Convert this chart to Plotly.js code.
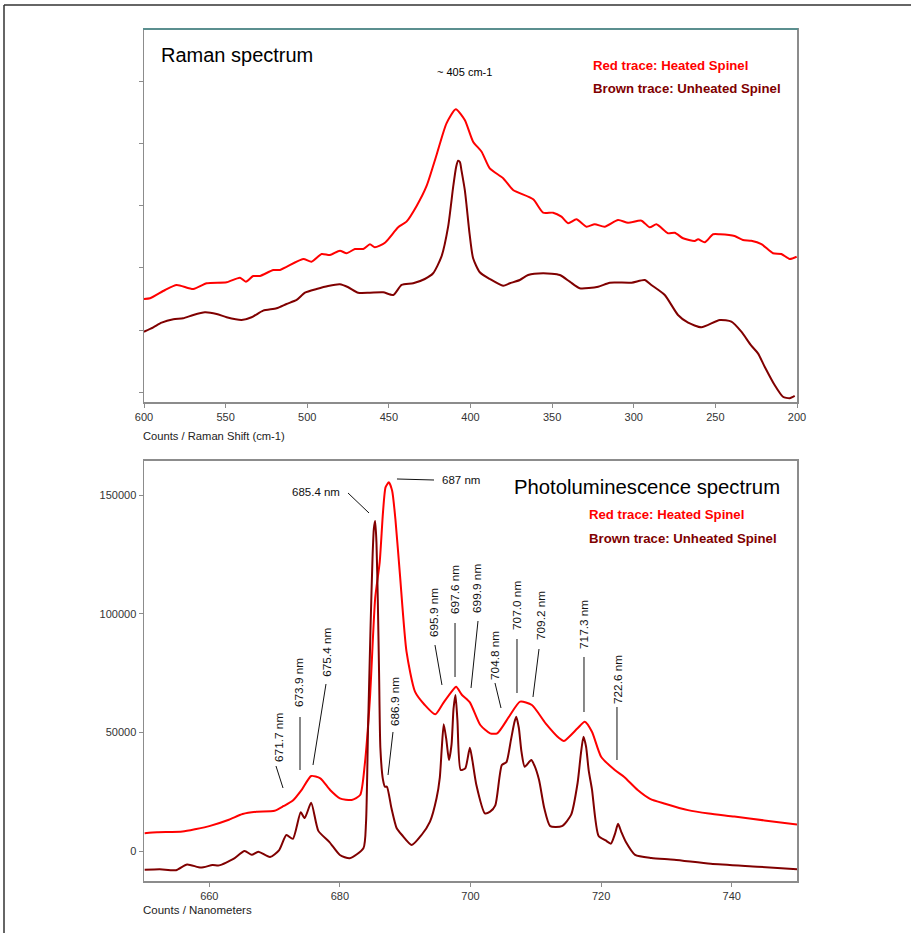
<!DOCTYPE html>
<html>
<head>
<meta charset="utf-8">
<script src="https://cdn.plot.ly/plotly-3.0.1.min.js"></script>
<style>
html,body{margin:0;padding:0;background:#fff;}
#chart{width:911px;height:933px;}
</style>
</head>
<body>
<div id="chart"></div>
<script>
// ---------- Raman spectrum data ----------
const ramanShiftHeated = [600,596.3,587.1,580,569.8,561.6,549.4,541.2,537.6,533.1,529,520.8,516.7,502.5,497.4,491.2,486.1,480,475.9,470.8,465.7,461.6,458.6,452.4,444.3,439.2,433,426.9,420.8,414.7,409,403.5,398.4,393.2,388.2,380,373.9,361.6,355.5,349.4,344.3,340.2,335.1,329,323.9,317.8,309.6,303.5,295.3,290.2,286.1,279,274.9,269.8,262.7,260.6,256.5,251.4,247.3,238.2,233.1,228,221.8,214.7,209.6,204.5,200.2];
const ramanHeated = [1499,1510,1643,1724,1659,1751,1767,1841,1777,1868,1868,1965,1965,2141,2098,2222,2206,2275,2233,2302,2302,2377,2329,2403,2651,2741,2993,3314,3812,4321,4546,4374,4026,3865,3598,3438,3250,3100,2885,2885,2821,2715,2779,2660,2699,2660,2768,2724,2757,2651,2699,2554,2564,2474,2430,2458,2410,2538,2538,2511,2447,2435,2382,2233,2222,2141,2178];
const ramanShiftUnheated = [600,594.3,589.2,582,576,569.8,562.7,555.5,549.4,540.2,534.1,527,518.8,512.7,506.5,501.4,494.3,487.2,480,474.9,468.8,461.6,453.5,447.3,442.2,435.1,428,422.9,417.8,413.7,410.6,408.8,407.6,406.5,405.5,403.5,402.4,400.6,398.4,394.3,388.2,380,375.9,369.8,364.7,355.5,345.3,339.2,333.1,321.8,314.7,301.4,293.3,289.2,281,272.9,266.7,258.6,247.3,240.2,234.1,228,223.9,219.8,213.7,208.6,204.5,201.4];
const ramanUnheated = [973,1044,1118,1173,1189,1242,1285,1258,1205,1161,1205,1311,1349,1418,1483,1600,1659,1708,1735,1687,1600,1600,1606,1563,1724,1751,1820,1912,2178,2660,3303,3620,3720,3700,3560,3250,3000,2554,2153,1928,1820,1712,1751,1804,1884,1912,1884,1777,1671,1696,1761,1761,1804,1724,1563,1242,1118,1044,1161,1134,973,749,626,411,117,-71,-96,-59];
const ramanXTicks = [600,550,500,450,400,350,300,250,200];
const ramanYTicks = [0,1000,2000,3000,4000,5000];

// ---------- Photoluminescence data ----------
const plNmHeated = [650.1,652,655.9,658,660,663,665.1,667.2,670,671.4,672.8,674.2,675.6,677,678.5,680,681.8,683.1,683.8,684.6,685.4,686.1,686.6,687.0,687.5,688.0,688.5,689.2,690.2,691.5,693,694.6,695.8,697.1,697.8,698.7,699.9,701.5,703,704.1,705.9,707.6,709.4,711.5,713.6,714.3,716.4,717.5,718.6,720,722.1,723.5,725.6,727.5,729.8,733.3,736.5,740.4,745,750];
const plHeated = [7540,7900,8220,9300,10500,13200,15600,16570,16970,18990,21280,26000,31640,30670,25740,22230,21520,23630,36280,64420,106600,122000,143000,153500,155540,152000,140000,116400,84090,67230,61600,57660,62300,67230,69330,65820,62720,53160,49640,49650,56660,63000,61600,53870,47550,46400,51770,54550,50340,39780,34170,31350,25730,22000,19940,17240,15800,14550,12900,11180];
const plNmUnheated = [650.1,652.4,654.9,656.6,658.7,660.5,661.5,663.7,665.4,666.5,667.5,669.3,670.7,671.8,672.8,674,674.6,675.6,676.7,678.4,680,681.5,683.6,684.0,684.3,684.7,685.0,685.2,685.4,685.6,685.8,686.0,686.2,686.6,686.9,687.2,687.9,688.7,689.5,691,692.5,693.8,694.8,695.3,695.6,695.9,696.3,696.7,697.1,697.4,697.7,698.0,698.5,699.2,699.9,700.3,700.9,702.2,703,703.8,704.8,705.5,706.2,706.7,707.0,707.4,707.8,708.3,709.3,709.8,710.5,711.3,712.2,714,715.4,716.4,716.9,717.3,717.7,718.1,718.6,719.6,720.7,721.5,722.1,722.6,723.1,723.8,725.2,727.7,731.2,736.8,743.9,750];
const plUnheated = [-7950,-7680,-8080,-5660,-7000,-5930,-6060,-3370,0,-1620,-270,-2560,400,6740,5120,16300,13870,20340,8490,3770,-1690,-3090,1130,12000,50330,95000,124000,136000,139200,130000,106600,75000,43330,30000,27130,27130,18000,9570,6750,2530,6750,12380,22230,31000,43330,53440,47000,38390,45000,60000,65820,55000,34170,34880,43610,38000,27850,15900,16580,19260,36280,37500,47000,54000,56660,52000,42000,35570,38390,36000,29950,18000,10500,10500,15220,28690,41000,48230,44000,34000,26000,6465,4445,3100,7000,11450,8000,3770,-1620,-2960,-3640,-5390,-6600,-7680];
const plXTicks = [660,680,700,720,740];
const plYTicks = [0,50000,100000,150000];

// peak labels (vertical text)
const peakLabels = ["671.7 nm","673.9 nm","675.4 nm","686.9 nm","695.9 nm","697.6 nm","699.9 nm","704.8 nm","707.0 nm","709.2 nm","717.3 nm","722.6 nm"];
const flatLabels = ["685.4 nm","687 nm"];

// ---------- styles / positions ----------
const RED = '#ff0000', BROWN = '#800000';
const font = 'Liberation Sans, Arial, sans-serif';

// label centres (x in nm, y in counts) and leader lines [x0,y0,x1,y1]
const peakPos = [[670.67,48100],[673.74,70880],[678.0,83960],[688.44,62860],[694.41,100400],[697.63,110100],[700.99,110960],[703.75,82690],[707.12,103790],[710.8,99150],[717.38,95770],[722.59,72140]];
const peakLines = [[670.21,35860,671.29,26580],[673.89,56530,673.89,34170],[677.87,70460,675.88,36280],[688.13,50210,687.37,32060],[694.56,86900,695.63,70040],[697.63,96190,697.63,73410],[701.15,97040,700.08,68770],[703.75,70880,704.67,60330],[707.12,89440,707.12,66660],[710.49,85220,709.57,64970],[717.38,81850,717.38,58640],[722.43,60750,722.43,38390]];
const flatPos = [[676.34,151460],[698.47,156520]];
const flatLines = [[681.24,151040,684.46,142600],[688.74,156950,694.41,156520]];

const lineStyle = c => ({color:c, width:2, shape:'spline', smoothing:0.6});
const traces = [
  {x: ramanShiftHeated, y: ramanHeated, xaxis:'x', yaxis:'y', type:'scatter', mode:'lines', line:lineStyle(RED), hoverinfo:'skip'},
  {x: ramanShiftUnheated, y: ramanUnheated, xaxis:'x', yaxis:'y', type:'scatter', mode:'lines', line:lineStyle(BROWN), hoverinfo:'skip'},
  {x: plNmHeated, y: plHeated, xaxis:'x2', yaxis:'y2', type:'scatter', mode:'lines', line:lineStyle(RED), hoverinfo:'skip'},
  {x: plNmUnheated, y: plUnheated, xaxis:'x2', yaxis:'y2', type:'scatter', mode:'lines', line:lineStyle(BROWN), hoverinfo:'skip'}
];

const W = 911, H = 933;
const px = v => v / W;
const py = v => 1 - v / H;

const axisCommon = {
  showgrid:false, zeroline:false, showline:true, mirror:true, linecolor:'#8c8c8c', linewidth:1.5,
  ticks:'outside', ticklen:4, tickcolor:'#8c8c8c', tickwidth:1,
  tickfont:{family:font, size:11, color:'#333'}, automargin:false, fixedrange:true
};

const annotations = [];
const shapes = [];

// Raman texts
annotations.push({xref:'paper', yref:'paper', x:px(159), y:py(55), xanchor:'left', yanchor:'middle', text:'Raman spectrum', showarrow:false, font:{family:font, size:20, color:'#000'}});
annotations.push({xref:'paper', yref:'paper', x:px(464), y:py(72), xanchor:'center', yanchor:'middle', text:'~ 405 cm-1', showarrow:false, font:{family:font, size:11, color:'#000'}});
annotations.push({xref:'paper', yref:'paper', x:px(591), y:py(65), xanchor:'left', yanchor:'middle', text:'<b>Red trace: Heated Spinel</b>', showarrow:false, font:{family:font, size:13.2, color:RED}});
annotations.push({xref:'paper', yref:'paper', x:px(591), y:py(89), xanchor:'left', yanchor:'middle', text:'<b>Brown trace: Unheated Spinel</b>', showarrow:false, font:{family:font, size:13.2, color:BROWN}});
annotations.push({xref:'paper', yref:'paper', x:px(141), y:py(436), xanchor:'left', yanchor:'middle', text:'Counts / Raman Shift (cm-1)', showarrow:false, font:{family:font, size:11.2, color:'#222'}});

// PL texts
annotations.push({xref:'paper', yref:'paper', x:px(782), y:py(487), xanchor:'right', yanchor:'middle', text:'Photoluminescence spectrum', showarrow:false, font:{family:font, size:20.3, color:'#000'}});
annotations.push({xref:'paper', yref:'paper', x:px(587), y:py(514), xanchor:'left', yanchor:'middle', text:'<b>Red trace: Heated Spinel</b>', showarrow:false, font:{family:font, size:13.2, color:RED}});
annotations.push({xref:'paper', yref:'paper', x:px(587), y:py(538), xanchor:'left', yanchor:'middle', text:'<b>Brown trace: Unheated Spinel</b>', showarrow:false, font:{family:font, size:13.2, color:BROWN}});
annotations.push({xref:'paper', yref:'paper', x:px(141), y:py(910), xanchor:'left', yanchor:'middle', text:'Counts / Nanometers', showarrow:false, font:{family:font, size:11.5, color:'#222'}});

peakLabels.forEach((t,i)=>{
  annotations.push({xref:'x2', yref:'y2', x:peakPos[i][0], y:peakPos[i][1], text:t, textangle:-90, showarrow:false, xanchor:'center', yanchor:'middle', font:{family:font, size:11.8, color:'#111'}});
  const L = peakLines[i];
  shapes.push({type:'line', xref:'x2', yref:'y2', x0:L[0], y0:L[1], x1:L[2], y1:L[3], line:{color:'#111', width:1}});
});
flatLabels.forEach((t,i)=>{
  annotations.push({xref:'x2', yref:'y2', x:flatPos[i][0], y:flatPos[i][1], text:t, showarrow:false, xanchor:'center', yanchor:'middle', font:{family:font, size:11.5, color:'#111'}});
  const L = flatLines[i];
  shapes.push({type:'line', xref:'x2', yref:'y2', x0:L[0], y0:L[1], x1:L[2], y1:L[3], line:{color:'#111', width:1}});
});

// teal top border of Raman panel
shapes.push({type:'line', xref:'paper', yref:'paper', x0:px(143), x1:px(798), y0:py(29), y1:py(29), line:{color:'#5b8f8f', width:2}});
// grey thicker top border on PL panel
shapes.push({type:'line', xref:'paper', yref:'paper', x0:px(143), x1:px(798), y0:py(460), y1:py(460), line:{color:'#8c8c8c', width:2}});
// outer frame (top & left)
shapes.push({type:'line', xref:'paper', yref:'paper', x0:px(4), x1:px(915), y0:py(5), y1:py(5), line:{color:'#333', width:1.5}});
shapes.push({type:'line', xref:'paper', yref:'paper', x0:px(4), x1:px(4), y0:py(5), y1:py(940), line:{color:'#333', width:1.5}});

const layout = {
  width:W, height:H, margin:{l:0,r:0,t:0,b:0},
  paper_bgcolor:'#fff', plot_bgcolor:'#fff', showlegend:false,
  xaxis: Object.assign({}, axisCommon, {domain:[px(144), px(797)], range:[600,200], tickvals:ramanXTicks, anchor:'y'}),
  yaxis: Object.assign({}, axisCommon, {domain:[py(402), py(29)], range:[-156,5836], tickvals:ramanYTicks, showticklabels:false, anchor:'x'}),
  xaxis2: Object.assign({}, axisCommon, {domain:[px(144), px(797)], range:[650,750], tickvals:plXTicks, anchor:'y2'}),
  yaxis2: Object.assign({}, axisCommon, {domain:[py(881), py(460)], range:[-12658,164960], tickvals:plYTicks, tickformat:'d', anchor:'x2'}),
  annotations: annotations,
  shapes: shapes
};

Plotly.newPlot('chart', traces, layout, {displayModeBar:false, staticPlot:true});
</script>
</body>
</html>
